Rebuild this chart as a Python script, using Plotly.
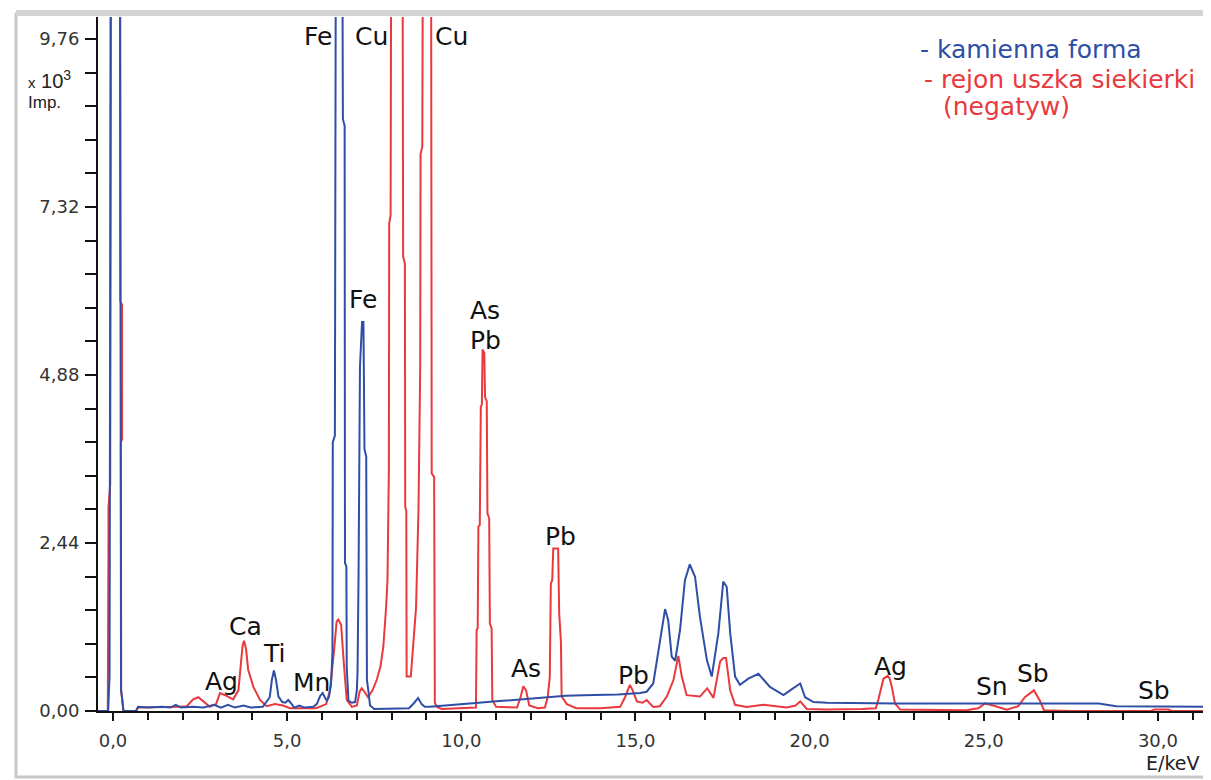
import plotly.graph_objects as go

# ---- spectrum readings: (energy keV, intensity x10^3 Imp.) ----
blue_points = [
    (-0.55, 0), (-0.14, 0), (-0.1, 0.5), (-0.06, 12), (0.2, 12), (0.23, 0.3), (0.26, 0.19), (0.3, 0),
    (0.66, 0), (0.72, 0.06), (1.0, 0.05), (1.4, 0.06), (1.65, 0.05), (1.8, 0.09), (1.95, 0.05),
    (2.3, 0.06), (2.6, 0.05), (2.9, 0.09), (3.1, 0.05), (3.3, 0.09), (3.5, 0.05), (3.75, 0.08),
    (3.95, 0.05), (4.3, 0.06), (4.5, 0.2), (4.56, 0.45), (4.62, 0.59), (4.68, 0.45), (4.75, 0.21),
    (4.86, 0.13), (4.95, 0.12), (5.03, 0.16), (5.1, 0.12), (5.2, 0.05), (5.35, 0.08), (5.5, 0.05),
    (5.75, 0.06), (5.85, 0.1), (5.95, 0.22), (6.02, 0.26), (6.08, 0.2), (6.14, 0.15), (6.2, 0.2),
    (6.26, 0.4), (6.3, 0.84), (6.31, 3.9), (6.37, 4.0), (6.40, 12), (6.58, 12), (6.6, 8.6),
    (6.65, 8.5), (6.66, 2.15), (6.7, 2.1), (6.71, 0.64), (6.76, 0.15), (6.85, 0.12), (6.95, 0.13),
    (7.0, 0.3), (7.02, 0.55), (7.05, 2.0), (7.09, 5.0), (7.12, 5.4), (7.15, 5.65), (7.19, 5.65),
    (7.22, 3.8), (7.27, 3.7), (7.29, 0.45), (7.33, 0.3), (7.38, 0.08), (7.5, 0.03), (8.0, 0.03),
    (8.5, 0.04), (8.65, 0.12), (8.76, 0.19), (8.86, 0.1), (8.95, 0.06), (9.1, 0.06), (9.5, 0.08),
    (10.0, 0.1), (10.5, 0.12), (11.0, 0.14), (11.5, 0.16), (12.0, 0.19), (12.5, 0.21), (13.0, 0.22),
    (13.5, 0.23), (14.0, 0.23), (14.5, 0.24), (15.13, 0.26), (15.32, 0.28), (15.51, 0.4),
    (15.61, 0.7), (15.7, 1.03), (15.85, 1.48), (15.94, 1.32), (16.04, 0.79), (16.14, 0.73),
    (16.28, 1.18), (16.42, 1.9), (16.56, 2.13), (16.71, 1.95), (16.85, 1.37), (17.05, 0.74),
    (17.19, 0.5), (17.38, 1.13), (17.52, 1.88), (17.62, 1.8), (17.72, 1.13), (17.86, 0.5),
    (18.0, 0.38), (18.24, 0.47), (18.53, 0.54), (18.86, 0.35), (19.25, 0.23), (19.44, 0.3),
    (19.73, 0.4), (19.87, 0.2), (20.11, 0.13), (20.5, 0.12), (22.5, 0.11), (25.0, 0.11),
    (28.3, 0.11), (28.8, 0.07), (31.7, 0.06),
]

red_points = [
    (-0.55, 0), (-0.15, 0), (-0.13, 2.5), (-0.13, 2.95), (-0.08, 3.3), (-0.06, 12), (0.2, 12),
    (0.21, 5.95), (0.26, 5.9), (0.26, 3.95), (0.225, 3.9), (0.235, 0.3), (0.3, 0), (0.66, 0),
    (0.72, 0.05), (1.5, 0.05), (1.9, 0.06), (2.12, 0.07), (2.3, 0.17), (2.45, 0.2), (2.58, 0.15),
    (2.78, 0.06), (2.96, 0.1), (3.07, 0.26), (3.26, 0.22), (3.45, 0.17), (3.6, 0.3), (3.65, 0.55),
    (3.72, 0.95), (3.76, 1.02), (3.82, 0.9), (3.88, 0.6), (4.03, 0.35), (4.22, 0.16), (4.41, 0.07),
    (4.65, 0.1), (4.88, 0.08), (5.08, 0.04), (5.5, 0.04), (5.83, 0.04), (6.12, 0.1), (6.23, 0.3),
    (6.35, 0.9), (6.42, 1.3), (6.47, 1.33), (6.55, 1.25), (6.62, 0.74), (6.71, 0.16), (6.86, 0.06),
    (7.0, 0.08), (7.08, 0.28), (7.14, 0.33), (7.22, 0.28), (7.32, 0.2), (7.45, 0.3), (7.57, 0.45),
    (7.68, 0.65), (7.76, 0.93), (7.84, 1.5), (7.88, 1.9), (7.92, 3.5), (7.93, 7.08), (7.97, 7.2),
    (7.99, 12), (8.31, 12), (8.33, 6.6), (8.38, 6.5), (8.39, 2.97), (8.42, 2.9), (8.43, 0.5),
    (8.55, 0.5), (8.62, 1.03), (8.7, 1.5), (8.77, 2.92), (8.82, 5.0), (8.83, 8.09), (8.88, 8.2),
    (8.9, 12), (9.13, 12), (9.15, 3.45), (9.22, 3.4), (9.24, 0.12), (9.3, 0.06), (9.44, 0.03),
    (10.0, 0.04), (10.42, 0.05), (10.44, 1.18), (10.47, 1.2), (10.49, 2.68), (10.53, 2.7),
    (10.56, 4.42), (10.59, 4.45), (10.61, 5.25), (10.66, 5.2), (10.68, 4.56), (10.73, 4.5),
    (10.75, 2.87), (10.8, 2.8), (10.82, 1.27), (10.87, 1.2), (10.89, 0.16), (11.0, 0.06),
    (11.6, 0.05), (11.7, 0.2), (11.78, 0.36), (11.86, 0.3), (11.95, 0.08), (12.2, 0.04),
    (12.4, 0.05), (12.48, 0.2), (12.54, 0.5), (12.57, 1.85), (12.61, 1.9), (12.64, 2.36),
    (12.78, 2.36), (12.81, 1.42), (12.86, 1.0), (12.88, 0.21), (13.03, 0.1), (13.3, 0.04),
    (14.0, 0.04), (14.56, 0.06), (14.7, 0.2), (14.84, 0.38), (14.92, 0.3), (15.04, 0.14),
    (15.2, 0.12), (15.32, 0.16), (15.51, 0.06), (15.7, 0.07), (15.9, 0.21), (16.09, 0.45),
    (16.23, 0.8), (16.33, 0.5), (16.47, 0.23), (16.85, 0.21), (17.06, 0.33), (17.24, 0.19),
    (17.43, 0.72), (17.52, 0.77), (17.6, 0.77), (17.72, 0.3), (17.86, 0.09), (18.19, 0.06),
    (18.67, 0.09), (19.34, 0.05), (19.6, 0.08), (19.73, 0.14), (19.92, 0.03), (20.5, 0.02),
    (21.5, 0.03), (21.9, 0.04), (21.97, 0.16), (22.05, 0.35), (22.12, 0.47), (22.24, 0.51),
    (22.3, 0.47), (22.36, 0.35), (22.45, 0.11), (22.6, 0.02), (24.5, 0.01), (24.84, 0.04),
    (25.04, 0.11), (25.27, 0.08), (25.66, 0.02), (25.99, 0.07), (26.18, 0.2), (26.44, 0.3),
    (26.61, 0.15), (26.73, 0.01), (27.5, 0.0), (29.8, 0.0), (29.9, 0.02), (30.3, 0.02),
    (30.4, 0.0), (31.7, 0),
]

# ---- peak labels ----
label_text = ["Ag", "Ca", "Ti", "Mn", "Fe", "Cu", "Cu", "Fe", "As", "Pb", "Pb", "As", "Pb",
              "Ag", "Sn", "Sb", "Sb"]
label_energy = [3.12, 3.79, 4.62, 5.71, 5.89, 7.43, 9.73, 7.18, 10.68, 10.68, 12.86, 11.86,
                14.93, 22.31, 25.24, 26.42, 29.9]
label_level = [0.43, 1.23, 0.84, 0.41, 9.79, 9.79, 9.79, 5.97, 5.81, 5.38, 2.53, 0.62, 0.52,
               0.65, 0.35, 0.54, 0.3]

# ---- axis ticks ----
y_tick_vals = [0, 2.44, 4.88, 7.32, 9.76]
y_tick_text = ["0,00", "2,44", "4,88", "7,32", "9,76"]
x_tick_vals = [0, 5, 10, 15, 20, 25, 30]
x_tick_text = ["0,0", "5,0", "10,0", "15,0", "20,0", "25,0", "30,0"]

legend_lines = ["- kamienna forma", "- rejon uszka siekierki", "(negatyw)"]

BLUE = "#2f4fa6"
RED = "#e8393e"

# page body has an 8 px margin; the figure is sized/offset so the plot lands where the reference has it
OFF = 8
W, H = 1211 - OFF, 780 - OFF
PLOT_L, PLOT_R, PLOT_T, PLOT_B = 98, 1206, 17, 711
L, T = PLOT_L - OFF, PLOT_T - OFF
R = W - (PLOT_R - OFF)
B = H - (PLOT_B - OFF)
PW, PH = PLOT_R - PLOT_L, PLOT_B - PLOT_T


def px(x):
    return (x - PLOT_L) / PW


def py(y):
    return (PLOT_B - y) / PH


fig = go.Figure()
fig.add_trace(go.Scatter(x=[p[0] for p in red_points], y=[p[1] for p in red_points],
                         mode="lines", line=dict(color=RED, width=2), hoverinfo="skip"))
fig.add_trace(go.Scatter(x=[p[0] for p in blue_points], y=[p[1] for p in blue_points],
                         mode="lines", line=dict(color=BLUE, width=2), hoverinfo="skip"))

annotations = []
for t, e, v in zip(label_text, label_energy, label_level):
    annotations.append(dict(x=e, y=v, xref="x", yref="y", text=t, showarrow=False,
                            xanchor="center", yanchor="middle",
                            font=dict(family="DejaVu Sans", size=25, color="#111111")))

leg_colors = [BLUE, RED, RED]
leg_x = [918, 922, 941]
leg_y = [50, 79, 106]
for t, c, lx, ly in zip(legend_lines, leg_colors, leg_x, leg_y):
    annotations.append(dict(x=px(lx), y=py(ly), xref="paper", yref="paper", text=t,
                            showarrow=False, xanchor="left", yanchor="middle",
                            font=dict(family="DejaVu Sans", size=25, color=c)))

annotations.append(dict(x=px(26), y=py(79), xref="paper", yref="paper",
                        text="<span style='font-size:15px'>x</span> 10<sup>3</sup>",
                        showarrow=False, xanchor="left", yanchor="middle",
                        font=dict(family="Liberation Sans", size=20, color="#222")))
annotations.append(dict(x=px(26), y=py(103), xref="paper", yref="paper", text="Imp.",
                        showarrow=False, xanchor="left", yanchor="middle",
                        font=dict(family="Liberation Sans", size=17, color="#222")))
annotations.append(dict(x=px(1172), y=py(763), xref="paper", yref="paper", text="E/keV",
                        showarrow=False, xanchor="center", yanchor="middle",
                        font=dict(family="DejaVu Sans", size=19, color="#222")))

shapes = [
    dict(type="rect", xref="paper", yref="paper", x0=px(16), x1=px(1207), y0=py(777), y1=py(14),
         line=dict(color="#c8c8c8", width=3), fillcolor="rgba(0,0,0,0)", layer="above"),
    dict(type="rect", xref="paper", yref="paper", x0=px(16), x1=px(1207), y0=py(16), y1=py(10),
         line=dict(width=0), fillcolor="#d4d4d4", layer="above"),
]

fig.update_layout(
    width=W, height=H, autosize=False,
    margin=dict(l=L, r=R, t=T, b=B, pad=0),
    paper_bgcolor="white", plot_bgcolor="white",
    showlegend=False,
    annotations=annotations, shapes=shapes,
    xaxis=dict(range=[-0.431, 31.38], showgrid=False, zeroline=False, automargin=False,
               showline=True, linecolor="#111", linewidth=2,
               ticks="outside", ticklen=8, tickwidth=1.5, tickcolor="#111",
               tickvals=x_tick_vals, ticktext=x_tick_text, ticklabelstandoff=4,
               tickfont=dict(family="DejaVu Sans", size=18, color="#333"),
               minor=dict(tickvals=[v for v in range(0, 32) if v % 5], ticks="outside",
                          ticklen=7, tickwidth=1.5, tickcolor="#111")),
    yaxis=dict(range=[0, 10.08], showgrid=False, zeroline=False, automargin=False,
               showline=True, linecolor="#111", linewidth=2,
               ticks="outside", ticklen=11, tickwidth=1.5, tickcolor="#111",
               tickvals=y_tick_vals, ticktext=y_tick_text, ticklabelstandoff=2,
               tickfont=dict(family="DejaVu Sans", size=18, color="#333"),
               minor=dict(tickvals=[round(i * 0.488, 3) for i in range(1, 21) if i % 5],
                          ticks="outside", ticklen=11, tickwidth=1.5, tickcolor="#111")),
)

fig.write_html("out.html")
